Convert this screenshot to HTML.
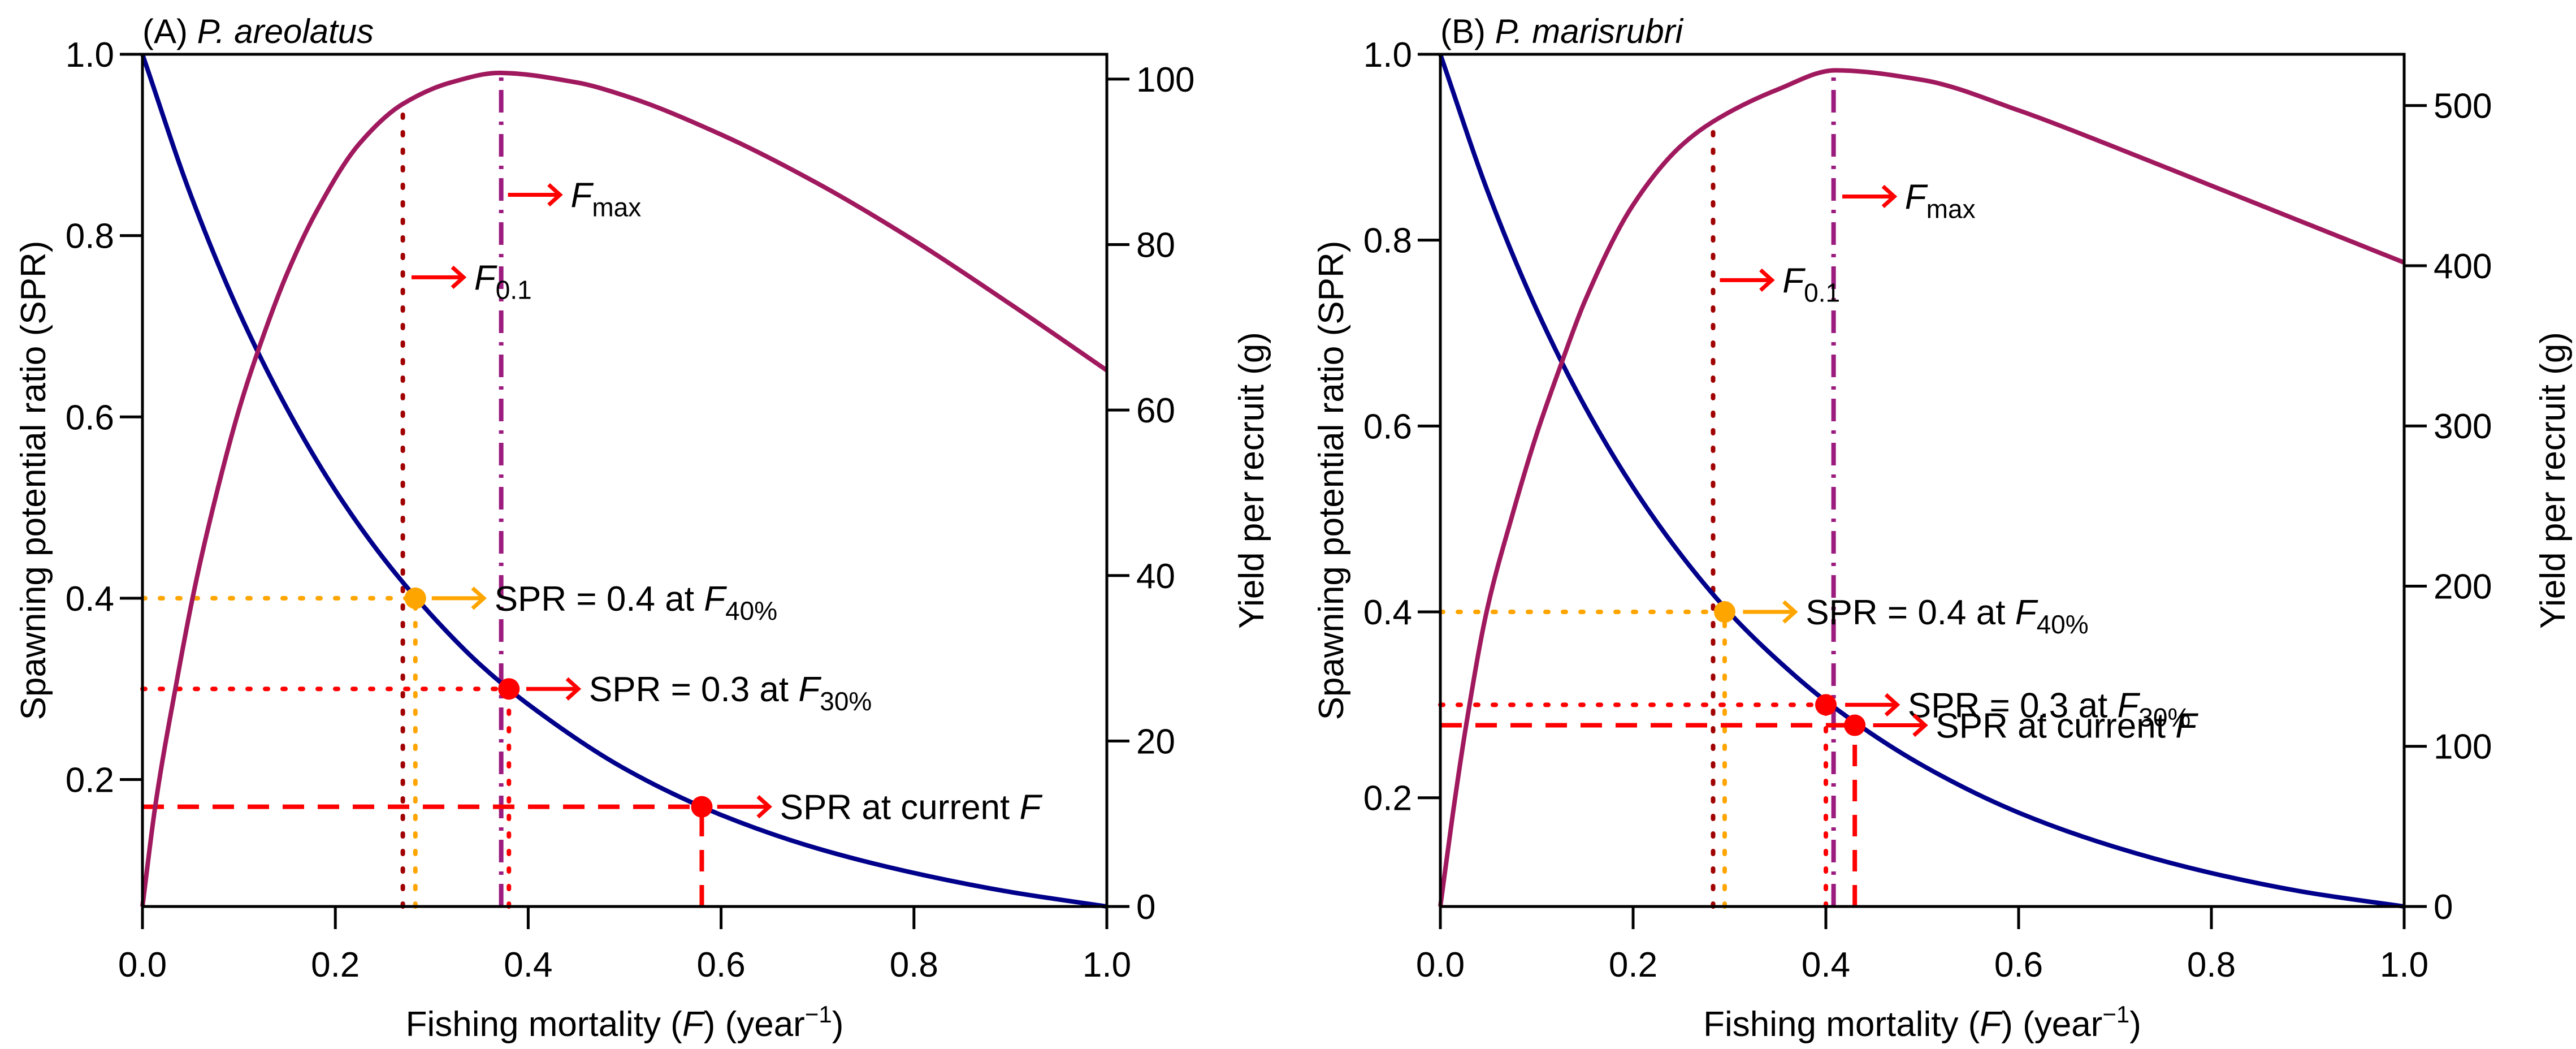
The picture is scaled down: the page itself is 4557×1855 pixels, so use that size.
<!DOCTYPE html>
<html><head><meta charset="utf-8"><style>
html,body{margin:0;padding:0;background:#fff;}
svg{display:block;font-family:"Liberation Sans",Arial,sans-serif;}
</style></head><body>
<svg id="chart" xmlns="http://www.w3.org/2000/svg" width="4557" height="1855" viewBox="0 0 4557 1855"></svg>
<script>
// ---- Panel A data (P. areolatus) ----
const fA = [0,0.05,0.1,0.15,0.2,0.25,0.3,0.35,0.4,0.5,0.6,0.7,0.8,0.9,1.0];
const sprA = [1.0,0.845,0.716,0.609,0.519,0.444,0.381,0.327,0.283,0.212,0.161,0.124,0.097,0.076,0.06];
const fyA = [0,0.0135,0.036,0.052,0.067,0.1,0.12,0.15,0.18,0.225,0.27,0.32,0.37,0.45,0.5,0.6,0.7,0.8,0.9,1.0];
const yprA = [0,12.3,27.5,37.3,45.2,60,67.2,76.5,83.9,92.2,97,99.6,100.75,99.6,98.0,93.3,87.4,80.5,72.8,64.8];
const refA = {f01:0.27, f40:0.283, f30:0.38, fcur:0.58, fmax:0.372, scur:0.17, yf01:97, ymax:100.75};
// ---- Panel B data (P. marisrubri) ----
const fB = [0,0.05,0.1,0.15,0.2,0.25,0.3,0.35,0.4,0.5,0.6,0.7,0.8,0.9,1.0];
const sprB = [1.0,0.85,0.725,0.621,0.534,0.461,0.399,0.348,0.304,0.235,0.184,0.147,0.119,0.098,0.083];
const fyB = [0,0.013,0.027,0.048,0.075,0.1,0.125,0.15,0.2,0.25,0.283,0.35,0.41,0.5,0.6,0.7,0.8,0.9,1.0];
const yprB = [0,58,114,184,245,295,338,378,438,475,490,510,522,516,497,474,450,426,402];
const refB = {f01:0.283, f40:0.295, f30:0.40, fcur:0.43, fmax:0.408, scur:0.278, yf01:490, ymax:522};

const leftTicks = [0.2,0.4,0.6,0.8,1.0];
const xTicks = [0,0.2,0.4,0.6,0.8,1.0];
const rightTicksA = [0,20,40,60,80,100];
const rightTicksB = [0,100,200,300,400,500];

const NS = "http://www.w3.org/2000/svg";
const svg = document.getElementById('chart');
function el(tag, attrs, parent, text){
  const e = document.createElementNS(NS, tag);
  for (const k in attrs) e.setAttribute(k, attrs[k]);
  if (text !== undefined) e.textContent = text;
  (parent||svg).appendChild(e); return e;
}
function smoothPath(pts){
  const n=pts.length, dx=[], m=[], t=[];
  for(let i=0;i<n-1;i++){dx.push(pts[i+1][0]-pts[i][0]); m.push((pts[i+1][1]-pts[i][1])/dx[i]);}
  t[0]=m[0]; t[n-1]=m[n-2];
  for(let i=1;i<n-1;i++){
    if(m[i-1]*m[i]<=0) t[i]=0;
    else { const w1=2*dx[i]+dx[i-1], w2=dx[i]+2*dx[i-1]; t[i]=(w1+w2)/(w1/m[i-1]+w2/m[i]); }
  }
  let d="M"+pts[0][0]+","+pts[0][1];
  for(let i=0;i<n-1;i++){
    const h=dx[i];
    d+=" C"+(pts[i][0]+h/3)+","+(pts[i][1]+t[i]*h/3)+" "+(pts[i+1][0]-h/3)+","+(pts[i+1][1]-t[i+1]*h/3)+" "+pts[i+1][0]+","+pts[i+1][1];
  }
  return d;
}
const DOT = '5 26', DASH = '38 24', DOTDASH = '40 16 6 16';

function panel(cfg){
  const g = el('g', {});
  
  
  const L=cfg.L, R=cfg.R, T=96, B=1603;
  const xs = f => L + f*(R-L);
  const ys = s => B - (s-cfg.smin)/(1-cfg.smin)*(B-T);
  const yr = v => B - v/cfg.ymaxAxis*(B-T);
  const ref = cfg.ref;

  function vline(f, y2, color, dash, nm){
    const l = el('line', {x1:xs(f), x2:xs(f), y1:B, y2:y2, stroke:color, 'stroke-width':8, 'stroke-dasharray':dash, 'stroke-linecap':dash===DOT?'round':'butt'}, g);
    
    
  }
  function hline(s, f, color, dash, nm){
    const l = el('line', {x1:L, x2:xs(f), y1:ys(s), y2:ys(s), stroke:color, 'stroke-width':8, 'stroke-dasharray':dash, 'stroke-linecap':dash===DOT?'round':'butt'}, g);
    
    
  }
  vline(ref.f01, yr(ref.yf01), '#A00000', DOT, 'f01-line');
  vline(ref.f40, ys(0.4), '#FFA500', DOT, 'f40-vline');
  vline(ref.f30, ys(0.3), '#FF0000', DOT, 'f30-vline');
  vline(ref.fcur, ys(ref.scur), '#FF0000', DASH, 'fcurrent-vline');
  vline(ref.fmax, yr(ref.ymax), '#9B1B7E', DOTDASH, 'fmax-line');
  hline(0.4, ref.f40, '#FFA500', DOT, 'spr40-hline');
  hline(0.3, ref.f30, '#FF0000', DOT, 'spr30-hline');
  hline(ref.scur, ref.fcur, '#FF0000', DASH, 'sprcurrent-hline');

  const sp = el('path', {d:smoothPath(cfg.f.map((f,i)=>[xs(f), ys(cfg.spr[i])])), fill:'none', stroke:'#00008B', 'stroke-width':8}, g);
  
  
  const yp = el('path', {d:smoothPath(cfg.fy.map((f,i)=>[xs(f), yr(cfg.ypr[i])])), fill:'none', stroke:'#A0195E', 'stroke-width':8}, g);
  
  

  function pt(f, s, color, nm){
    const c = el('circle', {cx:xs(f), cy:ys(s), r:19, fill:color}, g);
    
    
  }
  pt(ref.f40, 0.4, '#FFA500', 'spr40-point');
  pt(ref.f30, 0.3, '#FF0000', 'spr30-point');
  pt(ref.fcur, ref.scur, '#FF0000', 'sprcurrent-point');

  function arrow(f1, s, color, nm){
    const x1=xs(f1), x2=x1+92, y=ys(s);
    const a = el('path', {d:`M${x1},${y} L${x2},${y} M${x2-20},${y-18} L${x2},${y} L${x2-20},${y+18}`, fill:'none', stroke:color, 'stroke-width':7}, g);
    
    
  }
  function label(f, s, parts, nm){
    const t = el('text', {x:xs(f), y:ys(s)+22, 'font-size':62, fill:'#000'}, g);
    
    
    parts.forEach(p=>{
      const ts = el('tspan', {}, t, p.t);
      if (p.i) ts.setAttribute('font-style','italic');
      if (p.sub){ ts.setAttribute('font-size','46'); ts.setAttribute('dy','16'); }
    });
  }
  const A = cfg.arrows;
  arrow(A.fmax[0], A.fmax[1], '#FF0000', 'fmax-arrow');
  label(A.fmax[0]+0.065, A.fmax[1], [{t:'F',i:1},{t:'max',sub:1}], 'fmax-label');
  arrow(A.f01[0], A.f01[1], '#FF0000', 'f01-arrow');
  label(A.f01[0]+0.065, A.f01[1], [{t:'F',i:1},{t:'0.1',sub:1}], 'f01-label');
  arrow(A.s40, 0.4, '#FFA500', 'spr40-arrow');
  label(A.s40+0.065, 0.4, [{t:'SPR = 0.4 at '},{t:'F',i:1},{t:'40%',sub:1}], 'spr40-label');
  arrow(A.s30, 0.3, '#FF0000', 'spr30-arrow');
  label(A.s30+0.065, 0.3, [{t:'SPR = 0.3 at '},{t:'F',i:1},{t:'30%',sub:1}], 'spr30-label');
  arrow(A.cur, ref.scur, '#FF0000', 'sprcurrent-arrow');
  label(A.cur+0.065, ref.scur, [{t:'SPR at current '},{t:'F',i:1}], 'sprcurrent-label');

  const fr = el('rect', {x:L, y:T, width:R-L, height:B-T, fill:'none', stroke:'#000', 'stroke-width':5}, g);
  
  

  xTicks.forEach(v=>{
    const tk = el('line', {x1:xs(v), x2:xs(v), y1:B, y2:B+40, stroke:'#000', 'stroke-width':5}, g);
    
    
    const tl = el('text', {x:xs(v), y:B+124, 'font-size':62, 'text-anchor':'middle'}, g, v.toFixed(1));
    
    
  });
  leftTicks.forEach(v=>{
    const tk = el('line', {x1:L-40, x2:L, y1:ys(v), y2:ys(v), stroke:'#000', 'stroke-width':5}, g);
    
    
    const tl = el('text', {x:L-50, y:ys(v)+22, 'font-size':62, 'text-anchor':'end'}, g, v.toFixed(1));
    
    
  });
  cfg.rticks.forEach(v=>{
    const tk = el('line', {x1:R, x2:R+40, y1:yr(v), y2:yr(v), stroke:'#000', 'stroke-width':5}, g);
    
    
    const tl = el('text', {x:R+52, y:yr(v)+22, 'font-size':62}, g, String(v));
    
    
  });

  const tt = el('text', {x:L, y:76, 'font-size':60}, g);
  
  
  el('tspan', {}, tt, cfg.tag+' ');
  el('tspan', {'font-style':'italic'}, tt, cfg.species);

  const xt = el('text', {x:(L+R)/2, y:1832, 'font-size':62, 'text-anchor':'middle'}, g);
  
  
  el('tspan', {}, xt, 'Fishing mortality (');
  el('tspan', {'font-style':'italic'}, xt, 'F');
  el('tspan', {}, xt, ') (year');
  el('tspan', {'font-size':42, dy:-24}, xt, '\u22121');
  el('tspan', {dy:24}, xt, ')');

  const yl = el('text', {x:0, y:0, 'font-size':62, 'text-anchor':'middle', transform:`translate(${L-172},${(T+B)/2}) rotate(-90)`}, g, 'Spawning potential ratio (SPR)');
  
  
  const yr2 = el('text', {x:0, y:0, 'font-size':62, 'text-anchor':'middle', transform:`translate(${cfg.rtitleX},${(T+B)/2}) rotate(-90)`}, g, 'Yield per recruit (g)');
  
  
}

panel({name:'panel-a', tag:'(A)', species:'P. areolatus', L:252, R:1958, smin:0.06, ymaxAxis:103,
  f:fA, spr:sprA, fy:fyA, ypr:yprA, ref:refA, rticks:rightTicksA, rtitleX:2235,
  arrows:{fmax:[0.379,0.845], f01:[0.279,0.754], s40:0.30, s30:0.398, cur:0.596}});
panel({name:'panel-b', tag:'(B)', species:'P. marisrubri', L:2548, R:4253, smin:0.083, ymaxAxis:532,
  f:fB, spr:sprB, fy:fyB, ypr:yprB, ref:refB, rticks:rightTicksB, rtitleX:4537,
  arrows:{fmax:[0.417,0.847], f01:[0.29,0.757], s40:0.314, s30:0.42, cur:0.449}});
</script>
</body></html>
